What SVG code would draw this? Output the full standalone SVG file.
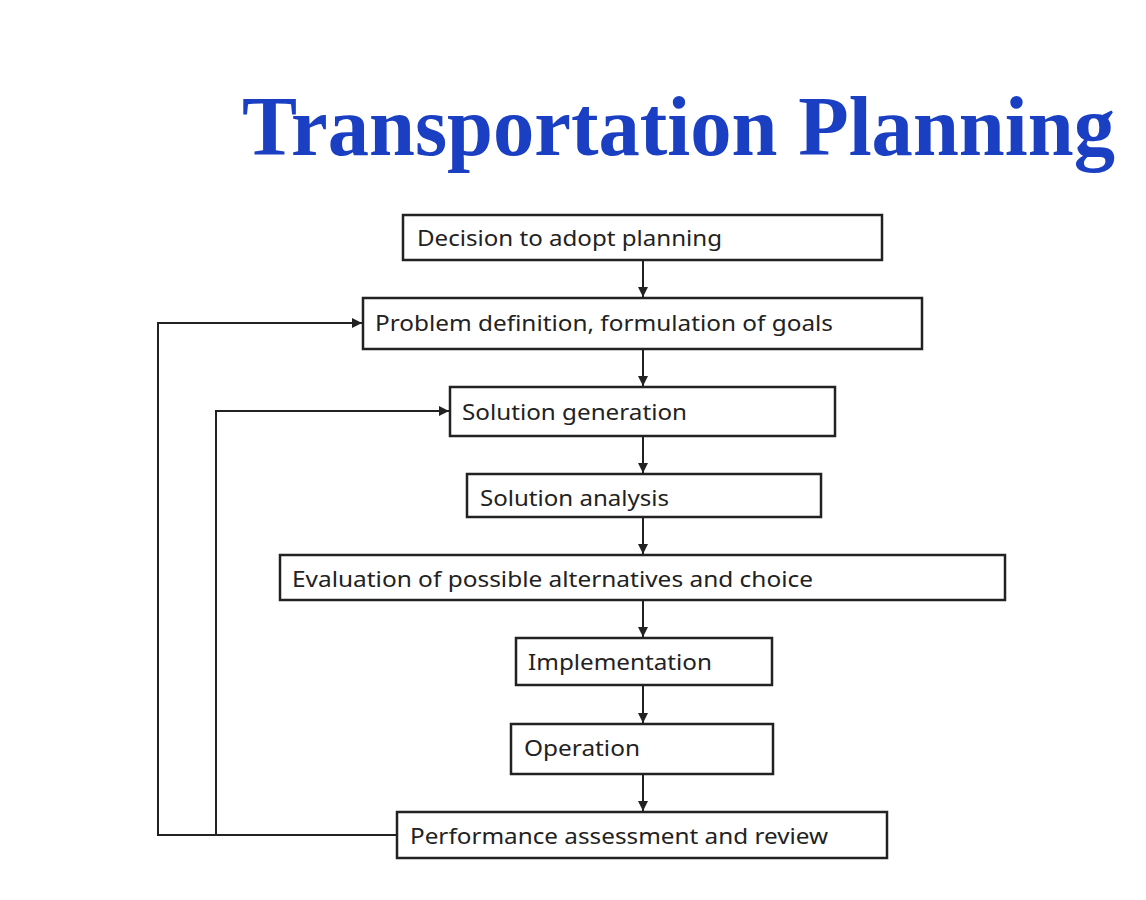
<svg xmlns="http://www.w3.org/2000/svg" width="1146" height="900" viewBox="0 0 1146 900">
<style>
.box{fill:#fff;stroke:#222;stroke-width:2.5}
.lbl{font-family:"Noto Sans","Open Sans",sans-serif;font-size:22px;fill:#222}
.conn{fill:none;stroke:#222;stroke-width:2}
.title{font-family:"Liberation Serif","Times New Roman",serif;font-weight:bold;font-size:84px;fill:#1b3fc2}
</style>
<defs>
<marker id="ah" viewBox="0 0 10 10" refX="10" refY="5" markerWidth="10" markerHeight="10" markerUnits="userSpaceOnUse" orient="auto">
<path d="M0,0 L10,5 L0,10 z" fill="#222"/>
</marker>
</defs>
<rect width="1146" height="900" fill="#fff"/>
<text class="title" x="242" y="155" textLength="873" lengthAdjust="spacingAndGlyphs">Transportation Planning</text>
<g id="connectors">
<line class="conn" x1="643" y1="260" x2="643" y2="297" marker-end="url(#ah)"/>
<line class="conn" x1="643" y1="349" x2="643" y2="386" marker-end="url(#ah)"/>
<line class="conn" x1="643" y1="436" x2="643" y2="473" marker-end="url(#ah)"/>
<line class="conn" x1="643" y1="517" x2="643" y2="554" marker-end="url(#ah)"/>
<line class="conn" x1="643" y1="600" x2="643" y2="637" marker-end="url(#ah)"/>
<line class="conn" x1="643" y1="685" x2="643" y2="723" marker-end="url(#ah)"/>
<line class="conn" x1="643" y1="774" x2="643" y2="811" marker-end="url(#ah)"/>
<path class="conn" d="M397,835 H158 V323 H362" marker-end="url(#ah)"/>
<path class="conn" d="M216,835 V411 H449" marker-end="url(#ah)"/>
</g>
<g id="n1"><rect class="box" x="403" y="215" width="479" height="45"/><text class="lbl" x="417" y="246" textLength="305" lengthAdjust="spacingAndGlyphs">Decision to adopt planning</text></g>
<g id="n2"><rect class="box" x="363" y="298" width="559" height="51"/><text class="lbl" x="375" y="331" textLength="458" lengthAdjust="spacingAndGlyphs">Problem definition, formulation of goals</text></g>
<g id="n3"><rect class="box" x="450" y="387" width="385" height="49"/><text class="lbl" x="462" y="420" textLength="225" lengthAdjust="spacingAndGlyphs">Solution generation</text></g>
<g id="n4"><rect class="box" x="467" y="474" width="354" height="43"/><text class="lbl" x="480" y="506" textLength="189" lengthAdjust="spacingAndGlyphs">Solution analysis</text></g>
<g id="n5"><rect class="box" x="280" y="555" width="725" height="45"/><text class="lbl" x="292" y="587" textLength="521" lengthAdjust="spacingAndGlyphs">Evaluation of possible alternatives and choice</text></g>
<g id="n6"><rect class="box" x="516" y="638" width="256" height="47"/><text class="lbl" x="528" y="670" textLength="184" lengthAdjust="spacingAndGlyphs">Implementation</text></g>
<g id="n7"><rect class="box" x="511" y="724" width="262" height="50"/><text class="lbl" x="524" y="756" textLength="116" lengthAdjust="spacingAndGlyphs">Operation</text></g>
<g id="n8"><rect class="box" x="397" y="812" width="490" height="46"/><text class="lbl" x="410" y="844" textLength="418" lengthAdjust="spacingAndGlyphs">Performance assessment and review</text></g>
</svg>
